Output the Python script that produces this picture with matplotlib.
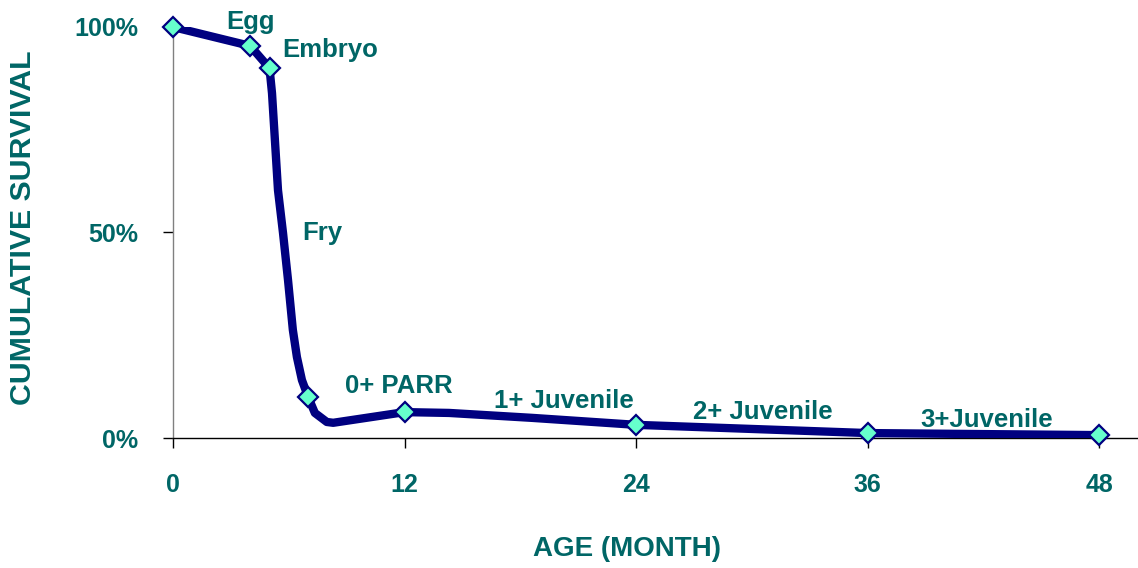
import matplotlib
matplotlib.use("Agg")
import matplotlib.pyplot as plt

# survival curve (month, % surviving)
curve_month = [0, 4, 5, 5.13, 5.28, 5.44, 5.7, 5.96, 6.21, 6.42, 6.68, 7,
               7.35, 7.97, 8.3, 12, 14.3, 18.6, 24, 36, 48]
curve_pct = [100, 95.4, 90, 83.9, 72.5, 60.3, 49.9, 38.4, 26.3, 19.7, 14.1, 10,
             6.1, 3.9, 3.7, 6.3, 6.1, 4.9, 3.2, 1.2, 0.7]

# stage boundaries (marked points)
stage_month = [0, 4, 5, 7, 12, 24, 36, 48]
stage_pct = [100, 95.4, 90, 10, 6.3, 3.2, 1.2, 0.7]

stage_names = ["Egg", "Embryo", "Fry", "0+ PARR", "1+ Juvenile", "2+ Juvenile", "3+Juvenile"]
x_ticks = [0, 12, 24, 36, 48]
y_ticks = [0, 50, 100]
y_tick_labels = ["0%", "50%", "100%"]

TEAL = "#006666"
NAVY = "#000080"
AQUA = "#66FFCC"

plt.rcParams["font.family"] = ["Liberation Sans", "DejaVu Sans"]
plt.rcParams["font.weight"] = "bold"

fig = plt.figure(figsize=(11.38, 5.68), dpi=100)
ax = fig.add_axes([173 / 1138, 130 / 568, 965 / 1138, 411 / 568])

ax.plot(curve_month, curve_pct, color=NAVY, lw=6, solid_joinstyle="round",
        solid_capstyle="round", zorder=3)
ax.plot(stage_month, stage_pct, ls="none", marker="D", ms=10.5, mfc=AQUA,
        mec=NAVY, mew=1.6, zorder=4, clip_on=False)

ax.set_xlim(0, 50)
ax.set_ylim(0, 100)
ax.set_xticks(x_ticks)
ax.set_yticks(y_ticks)
ax.set_yticklabels(y_tick_labels)

for s in ["top", "right"]:
    ax.spines[s].set_visible(False)
ax.spines["left"].set_color("#808080")
ax.spines["bottom"].set_color("black")
ax.spines["left"].set_linewidth(1)
ax.spines["bottom"].set_linewidth(1)

ax.tick_params(axis="both", direction="out", length=7, width=1, colors="black",
               labelcolor=TEAL, labelsize=18)
ax.tick_params(axis="y", pad=18)
ax.tick_params(axis="x", pad=18)
for lab in ax.get_xticklabels() + ax.get_yticklabels():
    lab.set_fontweight("bold")

ax.set_ylabel("CUMULATIVE SURVIVAL", color=TEAL, fontsize=21.8, fontweight="bold",
              va="center")
ax.yaxis.set_label_coords(-0.1554, 0.511)
ax.set_xlabel("AGE (MONTH)", color=TEAL, fontsize=20, fontweight="bold")
ax.xaxis.set_label_coords(0.470, -0.270)
ax.xaxis.label.set_va("center")

# stage label anchors (x centre, baseline) in data units
label_pos = [(3.99, 99.5), (8.15, 92.7), (7.76, 48.2), (11.68, 10.9),
             (20.25, 7.3), (30.55, 4.6), (42.15, 2.7)]
for name, (lx, ly) in zip(stage_names, label_pos):
    ax.text(lx, ly, name, color=TEAL, fontsize=18.5, fontweight="bold",
            ha="center", va="baseline", zorder=5, clip_on=False)

fig.savefig("out.png", dpi=100)
